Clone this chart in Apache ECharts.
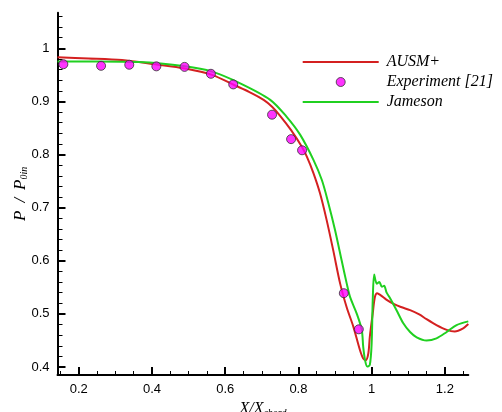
<!DOCTYPE html>
<html><head><meta charset="utf-8">
<script src="https://cdn.jsdelivr.net/npm/echarts@6/dist/echarts.min.js"></script>
<style>html,body{margin:0;padding:0;background:#fff}#c{width:502px;height:412px}</style>
</head><body><div id="c"></div>
<script>
const xMajorTicks = [0.2, 0.4, 0.6, 0.8, 1, 1.2];
const xMinorTicks = [0.15, 0.25, 0.3, 0.35, 0.45, 0.5, 0.55, 0.65, 0.7, 0.75, 0.85, 0.9, 0.95, 1.05, 1.1, 1.15, 1.25];
const yMajorTicks = [0.4, 0.5, 0.6, 0.7, 0.8, 0.9, 1];
const yMinorTicks = [0.42, 0.44, 0.46, 0.48, 0.52, 0.54, 0.56, 0.58, 0.62, 0.64, 0.66, 0.68, 0.72, 0.74, 0.76, 0.78, 0.82, 0.84, 0.86, 0.88, 0.92, 0.94, 0.96, 0.98, 1.02, 1.04, 1.06];

const ausmX = [0.142, 0.227, 0.318, 0.409, 0.491, 0.564, 0.627, 0.665, 0.705, 0.728, 0.750, 0.780, 0.809, 0.823, 0.841, 0.859, 0.877, 0.895, 0.914, 0.932, 0.950, 0.968, 0.977, 0.984, 0.991, 0.995, 1.003, 1.009, 1.015, 1.025, 1.040, 1.060, 1.080, 1.105, 1.130, 1.150, 1.177, 1.205, 1.227, 1.250, 1.264];
const ausmY = [0.983, 0.981, 0.978, 0.970, 0.962, 0.950, 0.930, 0.918, 0.903, 0.890, 0.873, 0.846, 0.815, 0.796, 0.765, 0.727, 0.677, 0.620, 0.557, 0.512, 0.476, 0.432, 0.416, 0.413, 0.426, 0.457, 0.501, 0.532, 0.539, 0.535, 0.527, 0.519, 0.513, 0.507, 0.499, 0.490, 0.479, 0.470, 0.467, 0.473, 0.481];

const jamX = [0.142, 0.250, 0.364, 0.491, 0.564, 0.641, 0.723, 0.768, 0.805, 0.841, 0.864, 0.882, 0.900, 0.918, 0.932, 0.941, 0.959, 0.973, 0.977, 0.982, 0.988, 0.995, 1.000, 1.003, 1.007, 1.014, 1.021, 1.028, 1.034, 1.041, 1.050, 1.068, 1.086, 1.105, 1.123, 1.150, 1.177, 1.205, 1.232, 1.264];
const jamY = [0.975, 0.975, 0.974, 0.966, 0.956, 0.934, 0.903, 0.871, 0.837, 0.790, 0.752, 0.708, 0.658, 0.601, 0.557, 0.532, 0.501, 0.470, 0.438, 0.413, 0.401, 0.404, 0.444, 0.526, 0.574, 0.557, 0.560, 0.551, 0.553, 0.540, 0.530, 0.507, 0.483, 0.466, 0.456, 0.450, 0.454, 0.466, 0.479, 0.486];

const expX = [0.158, 0.261, 0.338, 0.412, 0.489, 0.561, 0.622, 0.728, 0.780, 0.810, 0.924, 0.965];
const expY = [0.970, 0.967, 0.969, 0.966, 0.965, 0.952, 0.932, 0.875, 0.829, 0.808, 0.539, 0.471];

const xMin = 0.142, xMax = 1.264, yMin = 0.385, yMax = 1.067;

const zip = (a, b) => a.map((v, i) => [v, b[i]]);
const chart = echarts.init(document.getElementById('c'), null, {renderer: 'canvas'});
const serif = '"Liberation Serif", "Times New Roman", serif';
const sans = '"Liberation Sans", Arial, sans-serif';

chart.setOption({
  animation: false,
  backgroundColor: '#fff',
  grid: {left: 57.5, right: 33.7, top: 12.7, bottom: 37, containLabel: false, outerBoundsMode: 'none'},
  legend: {
    orient: 'vertical', left: 296.7, top: 49,
    itemWidth: 76, itemHeight: 9, itemGap: 4,
    textStyle: {fontFamily: serif, fontStyle: 'italic', fontSize: 16, color: '#000', lineHeight: 16, padding: [0, 0, 0, 3]},
    data: [
      {name: 'AUSM+', itemStyle: {opacity: 0}},
      {name: 'Experiment [21]', icon: 'circle', itemStyle: {color: '#ff00ff', borderColor: '#333', borderWidth: 1}},
      {name: 'Jameson', itemStyle: {opacity: 0}}
    ]
  },
  xAxis: [{
    type: 'value', min: xMin, max: xMax, position: 'bottom',
    axisLine: {lineStyle: {color: '#000', width: 2}},
    axisTick: {inside: true, length: 8, lineStyle: {color: '#000', width: 2}, customValues: xMajorTicks},
    axisLabel: {customValues: xMajorTicks, fontFamily: sans, fontSize: 13, color: '#000', margin: 8, formatter: v => String(v)},
    splitLine: {show: false},
    name: '{a|X/X}{b|chord}', nameLocation: 'middle', nameGap: 25, nameMoveOverlap: false,
    nameTextStyle: {rich: {
      a: {fontFamily: serif, fontStyle: 'italic', fontSize: 16, color: '#000', lineHeight: 18},
      b: {fontFamily: serif, fontStyle: 'italic', fontSize: 10, color: '#000', lineHeight: 18, padding: [8, 0, 0, 0]}
    }}
  }, {
    type: 'value', min: xMin, max: xMax, position: 'bottom',
    axisLine: {show: false},
    axisTick: {inside: true, length: 4, lineStyle: {color: '#000', width: 1}, customValues: xMinorTicks},
    axisLabel: {show: false}, splitLine: {show: false}
  }],
  yAxis: [{
    type: 'value', min: yMin, max: yMax, position: 'left',
    axisLine: {lineStyle: {color: '#000', width: 2}},
    axisTick: {inside: true, length: 8, lineStyle: {color: '#000', width: 2}, customValues: yMajorTicks},
    axisLabel: {customValues: yMajorTicks, fontFamily: sans, fontSize: 13, color: '#000', margin: 8, formatter: v => String(v)},
    splitLine: {show: false},
    name: '{p|P}{s|/}{p|P}{b|0in}', nameLocation: 'middle', nameRotate: 90, nameGap: 28, nameMoveOverlap: false,
    nameTextStyle: {rich: {
      p: {fontFamily: serif, fontStyle: 'italic', fontSize: 17, color: '#000', lineHeight: 18},
      s: {fontFamily: serif, fontStyle: 'italic', fontSize: 17, color: '#000', lineHeight: 18, padding: [0, 8, 0, 8]},
      b: {fontFamily: serif, fontStyle: 'italic', fontSize: 10, color: '#000', lineHeight: 18, padding: [8, 0, 0, 0]}
    }}
  }, {
    type: 'value', min: yMin, max: yMax, position: 'left',
    axisLine: {show: false},
    axisTick: {inside: true, length: 5, lineStyle: {color: '#000', width: 1}, customValues: yMinorTicks},
    axisLabel: {show: false}, splitLine: {show: false}
  }],
  series: [{
    name: 'AUSM+', type: 'line', data: zip(ausmX, ausmY), symbol: 'none', smooth: 0.3,
    lineStyle: {color: '#d42020', width: 2}, itemStyle: {color: '#d42020'}, z: 2
  }, {
    name: 'Jameson', type: 'line', data: zip(jamX, jamY), symbol: 'none', smooth: 0.3,
    lineStyle: {color: '#20d020', width: 2}, itemStyle: {color: '#20d020'}, z: 3
  }, {
    name: 'Experiment [21]', type: 'scatter', data: zip(expX, expY), symbol: 'circle', symbolSize: 9,
    itemStyle: {color: '#ff00ff', borderColor: '#333', borderWidth: 1}, z: 4
  }]
});
</script></body></html>
